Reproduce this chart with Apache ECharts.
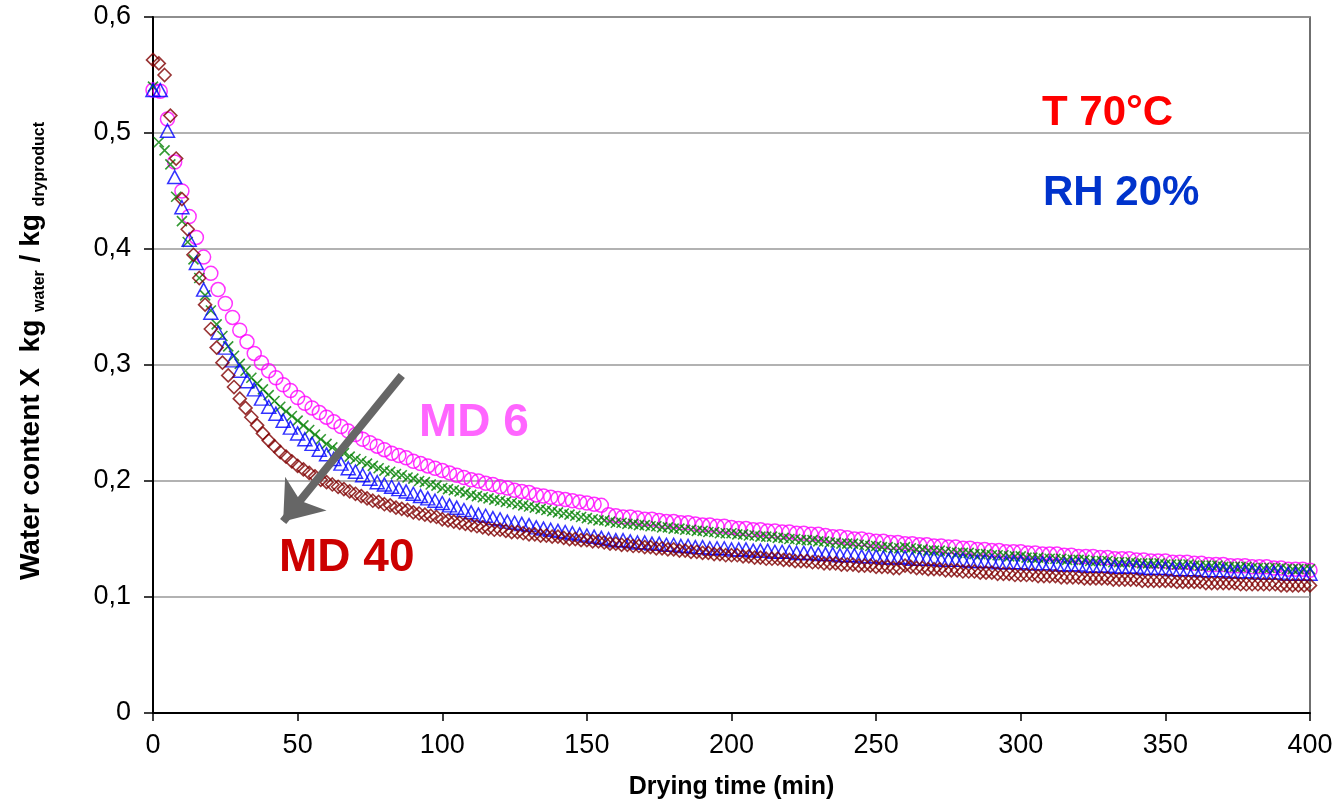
<!DOCTYPE html>
<html>
<head>
<meta charset="utf-8">
<title>Drying curves</title>
<script src="https://cdn.jsdelivr.net/npm/echarts/dist/echarts.min.js"></script>
<style>
  html, body { margin: 0; padding: 0; background: #fff; }
  #chart { width: 1338px; height: 805px; }
</style>
</head>
<body>
<div id="chart"></div>
<script>
// sampling times (min)
const timeFine = [0,2,4,6,8,10,12,14,16,18,20,22,24,26,28,30,32,34,36,38,40,42,44,46,48,50,52,54,56,58,60,
  62,64,66,68,70,72,74,76,78,80,82,84,86,88,90,92,94,96,98,100,
  102,104,106,108,110,112,114,116,118,120,122,124,126,128,130,132,134,136,138,140,142,144,146,148,150,152,154,156,158,160,
  162,164,166,168,170,172,174,176,178,180,182,184,186,188,190,192,194,196,198,200,
  202,204,206,208,210,212,214,216,218,220,222,224,226,228,230,232,234,236,238,240,242,244,246,248,250,
  252,254,256,258,260,262,264,266,268,270,272,274,276,278,280,282,284,286,288,290,292,294,296,298,300,
  302,304,306,308,310,312,314,316,318,320,322,324,326,328,330,332,334,336,338,340,342,344,346,348,350,
  352,354,356,358,360,362,364,366,368,370,372,374,376,378,380,382,384,386,388,390,392,394,396,398,400];

const timeCoarse = [0,2.5,5,7.5,10,12.5,15,17.5,20,22.5,25,27.5,30,32.5,35,37.5,40,42.5,45,47.5,50,
  52.5,55,57.5,60,62.5,65,67.5,70,72.5,75,77.5,80,82.5,85,87.5,90,92.5,95,97.5,100,
  102.5,105,107.5,110,112.5,115,117.5,120,122.5,125,127.5,130,132.5,135,137.5,140,142.5,145,147.5,150,152.5,155,
  157.5,160,162.5,165,167.5,170,172.5,175,177.5,180,182.5,185,187.5,190,192.5,195,197.5,200,
  202.5,205,207.5,210,212.5,215,217.5,220,222.5,225,227.5,230,232.5,235,237.5,240,242.5,245,247.5,250,
  252.5,255,257.5,260,262.5,265,267.5,270,272.5,275,277.5,280,282.5,285,287.5,290,292.5,295,297.5,300,
  302.5,305,307.5,310,312.5,315,317.5,320,322.5,325,327.5,330,332.5,335,337.5,340,342.5,345,347.5,350,
  352.5,355,357.5,360,362.5,365,367.5,370,372.5,375,377.5,380,382.5,385,387.5,390,392.5,395,397.5,400];

// MD 6 (circles), on timeCoarse
const md6 = [0.537,0.536,0.512,0.475,0.450,0.428,0.410,0.393,0.379,0.365,0.353,0.341,0.330,0.320,0.310,0.302,0.295,0.289,0.283,0.278,0.272,
  0.267,0.263,0.259,0.255,0.251,0.247,0.243,0.240,0.236,0.233,0.230,0.227,0.224,0.222,0.220,0.217,0.215,0.213,0.211,0.209,
  0.207,0.205,0.203,0.201,0.200,0.198,0.197,0.195,0.194,0.192,0.191,0.190,0.188,0.187,0.186,0.185,0.184,0.183,0.182,0.181,0.180,0.179,
  0.171,0.170,0.169,0.169,0.168,0.167,0.167,0.166,0.165,0.165,0.164,0.164,0.163,0.162,0.162,0.161,0.161,0.160,
  0.159,0.159,0.158,0.158,0.157,0.157,0.156,0.156,0.155,0.155,0.154,0.154,0.153,0.152,0.152,0.151,0.150,0.150,0.149,0.148,
  0.148,0.147,0.147,0.146,0.146,0.145,0.145,0.144,0.144,0.143,0.143,0.142,0.142,0.141,0.141,0.140,0.140,0.139,0.139,0.139,
  0.138,0.138,0.137,0.137,0.137,0.136,0.136,0.135,0.135,0.135,0.134,0.134,0.133,0.133,0.133,0.132,0.132,0.131,0.131,0.131,
  0.130,0.130,0.130,0.129,0.129,0.128,0.128,0.128,0.127,0.127,0.127,0.126,0.126,0.126,0.125,0.125,0.124,0.124,0.124,0.123];

// green crosses, on timeFine
const mdGreen = [0.540,0.492,0.485,0.473,0.445,0.424,0.406,0.391,0.375,0.360,0.347,0.335,0.325,0.316,0.308,0.301,0.295,0.289,0.284,0.279,0.274,0.269,0.264,0.260,0.256,0.252,0.248,0.244,0.240,0.236,0.232,
  0.229,0.226,0.224,0.221,0.219,0.217,0.215,0.213,0.211,0.209,0.208,0.206,0.205,0.203,0.202,0.200,0.199,0.197,0.196,0.194,
  0.193,0.192,0.191,0.190,0.188,0.187,0.186,0.185,0.184,0.183,0.182,0.181,0.180,0.179,0.178,0.177,0.176,0.175,0.174,0.173,0.172,0.171,0.170,0.169,0.168,0.167,0.166,0.166,0.165,0.164,
  0.164,0.163,0.163,0.162,0.162,0.161,0.161,0.160,0.160,0.159,0.159,0.158,0.158,0.157,0.157,0.156,0.156,0.155,0.155,0.155,
  0.154,0.154,0.153,0.153,0.152,0.152,0.152,0.151,0.151,0.150,0.150,0.149,0.149,0.149,0.148,0.148,0.147,0.147,0.146,0.146,0.146,0.145,0.145,0.144,0.144,
  0.143,0.143,0.142,0.142,0.143,0.142,0.141,0.141,0.140,0.140,0.140,0.139,0.139,0.138,0.138,0.138,0.137,0.137,0.137,0.136,0.136,0.136,0.135,0.135,0.135,
  0.134,0.134,0.134,0.133,0.133,0.133,0.133,0.132,0.132,0.132,0.132,0.131,0.131,0.131,0.131,0.130,0.130,0.130,0.130,0.129,0.129,0.129,0.129,0.129,0.128,
  0.128,0.128,0.128,0.128,0.127,0.127,0.127,0.127,0.127,0.126,0.126,0.126,0.126,0.126,0.125,0.125,0.125,0.125,0.125,0.125,0.124,0.124,0.124,0.124,0.124];

// blue triangles, on timeCoarse
const mdBlue = [0.537,0.537,0.502,0.462,0.436,0.408,0.388,0.365,0.345,0.328,0.315,0.304,0.295,0.286,0.279,0.271,0.264,0.258,0.252,0.246,0.241,
  0.236,0.232,0.227,0.223,0.219,0.215,0.211,0.208,0.205,0.202,0.199,0.197,0.195,0.193,0.191,0.189,0.187,0.185,0.183,0.181,
  0.179,0.177,0.175,0.173,0.171,0.170,0.168,0.167,0.165,0.164,0.163,0.162,0.160,0.159,0.158,0.157,0.156,0.155,0.154,0.153,0.152,0.151,
  0.150,0.149,0.149,0.148,0.147,0.147,0.146,0.146,0.145,0.145,0.144,0.144,0.143,0.143,0.142,0.142,0.142,0.141,
  0.141,0.141,0.140,0.140,0.140,0.139,0.139,0.139,0.138,0.138,0.138,0.137,0.137,0.137,0.136,0.136,0.136,0.135,0.135,0.135,
  0.134,0.134,0.134,0.134,0.133,0.133,0.133,0.133,0.132,0.132,0.132,0.132,0.131,0.131,0.131,0.131,0.130,0.130,0.130,0.130,
  0.129,0.129,0.129,0.129,0.128,0.128,0.128,0.128,0.127,0.127,0.127,0.127,0.126,0.126,0.126,0.126,0.125,0.125,0.125,0.125,
  0.124,0.124,0.124,0.124,0.123,0.123,0.123,0.123,0.122,0.122,0.122,0.122,0.121,0.121,0.121,0.121,0.120,0.120,0.120,0.120];

// MD 40 (diamonds), on timeFine
const md40 = [0.563,0.560,0.550,0.515,0.478,0.443,0.417,0.395,0.375,0.352,0.331,0.315,0.302,0.291,0.281,0.271,0.263,0.255,0.248,0.241,0.235,0.230,0.225,0.221,0.217,0.213,0.210,0.207,0.204,0.201,0.199,
  0.197,0.195,0.193,0.191,0.189,0.187,0.185,0.183,0.182,0.180,0.179,0.177,0.176,0.175,0.173,0.172,0.171,0.170,0.169,0.167,
  0.166,0.165,0.164,0.163,0.162,0.161,0.160,0.159,0.158,0.158,0.157,0.156,0.156,0.155,0.154,0.154,0.153,0.153,0.152,0.152,0.151,0.150,0.150,0.149,0.149,0.148,0.148,0.147,0.146,0.146,
  0.145,0.145,0.144,0.144,0.143,0.143,0.142,0.142,0.141,0.141,0.140,0.140,0.139,0.139,0.138,0.138,0.137,0.137,0.136,0.136,
  0.136,0.135,0.135,0.134,0.134,0.133,0.133,0.133,0.132,0.132,0.131,0.131,0.131,0.130,0.130,0.129,0.129,0.129,0.128,0.128,0.128,0.127,0.127,0.127,0.126,
  0.126,0.126,0.125,0.125,0.127,0.126,0.125,0.125,0.124,0.124,0.124,0.123,0.123,0.123,0.122,0.122,0.122,0.121,0.121,0.121,0.120,0.120,0.120,0.119,0.119,
  0.119,0.119,0.118,0.118,0.118,0.118,0.117,0.117,0.117,0.117,0.116,0.116,0.116,0.116,0.116,0.115,0.115,0.115,0.115,0.115,0.114,0.114,0.114,0.114,0.114,
  0.114,0.113,0.113,0.113,0.113,0.113,0.112,0.112,0.112,0.112,0.112,0.112,0.111,0.111,0.111,0.111,0.111,0.111,0.111,0.110,0.110,0.110,0.110,0.110,0.110];

// arrow from MD 6 towards MD 40, in data units
const arrowFrom = [86, 0.291];
const arrowTo = [45, 0.165];

const FONT = '"Liberation Sans", Arial, sans-serif';

function pairs(times, values) {
  return values.map((v, i) => [times[i], v]);
}

const chart = echarts.init(document.getElementById('chart'));

const option = {
  animation: false,
  backgroundColor: '#fff',
  grid: {
    left: 153, right: 28, top: 17, bottom: 88,
    show: true, borderColor: '#404040', borderWidth: 1.5
  },
  xAxis: {
    type: 'value', min: 0, max: 400, interval: 50,
    name: 'Drying time (min)', nameLocation: 'middle', nameGap: 62,
    nameTextStyle: { fontFamily: FONT, fontWeight: 'bold', fontSize: 25, color: '#000' },
    axisLine: { lineStyle: { color: '#000', width: 2 } },
    axisTick: { show: true, inside: false, length: 8, lineStyle: { color: '#000', width: 1.5 } },
    axisLabel: { fontFamily: FONT, fontSize: 27, color: '#000', margin: 19 },
    splitLine: { show: false }
  },
  yAxis: {
    type: 'value', min: 0, max: 0.6, interval: 0.1,
    name: '{a|Water content X  kg }{s|water}{a| / kg }{s|dryproduct}',
    nameLocation: 'middle', nameGap: 108,
    nameTextStyle: {
      fontFamily: FONT, color: '#000', padding: [0, 0, 0, 28],
      rich: {
        a: { fontFamily: FONT, fontWeight: 'bold', fontSize: 28, color: '#000', verticalAlign: 'bottom', lineHeight: 31 },
        s: { fontFamily: FONT, fontWeight: 'bold', fontSize: 16, color: '#000', verticalAlign: 'bottom', lineHeight: 31, padding: [0, 0, -3, 0] }
      }
    },
    axisLine: { show: true, lineStyle: { color: '#000', width: 2 } },
    axisTick: { show: true, inside: false, length: 9, lineStyle: { color: '#000', width: 1.5 } },
    axisLabel: {
      fontFamily: FONT, fontSize: 27, color: '#000', margin: 22,
      formatter: v => (v === 0 ? '0' : v.toFixed(1).replace('.', ','))
    },
    splitLine: { show: true, lineStyle: { color: '#999', width: 1.5 } }
  },
  series: [
    {
      name: 'MD 6', type: 'scatter', symbol: 'circle', symbolSize: 14,
      itemStyle: { color: 'rgba(0,0,0,0)', borderColor: '#FF00FF', borderWidth: 1.5 },
      data: pairs(timeCoarse, md6)
    },
    {
      name: 'green', type: 'scatter', symbol: 'path://M0,0L10,10M10,0L0,10', symbolSize: 10,
      itemStyle: { color: 'rgba(0,0,0,0)', borderColor: '#008000', borderWidth: 1.6 },
      data: pairs(timeFine, mdGreen)
    },
    {
      name: 'blue', type: 'scatter', symbol: 'triangle', symbolSize: [14, 13],
      itemStyle: { color: 'rgba(0,0,0,0)', borderColor: '#0000FF', borderWidth: 1.5 },
      data: pairs(timeCoarse, mdBlue)
    },
    {
      name: 'MD 40', type: 'scatter', symbol: 'diamond', symbolSize: [13, 13],
      itemStyle: { color: 'rgba(0,0,0,0)', borderColor: '#800000', borderWidth: 1.6 },
      data: pairs(timeFine, md40),
      markLine: {
        silent: true, animation: false,
        symbol: ['none', 'arrow'], symbolSize: [40, 36],
        label: { show: false },
        lineStyle: { color: '#666', width: 8, type: 'solid' },
        data: [[{ coord: arrowFrom }, { coord: arrowTo }]]
      }
    }
  ],
  graphic: [
    { type: 'text', left: 1042, top: 92, style: { text: 'T 70°C', font: 'bold 42px ' + FONT, fill: '#FF0000' } },
    { type: 'text', left: 1043, top: 172, style: { text: 'RH 20%', font: 'bold 42px ' + FONT, fill: '#0033CC' } },
    { type: 'text', left: 419, top: 400, style: { text: 'MD 6', font: 'bold 46px ' + FONT, fill: '#FF66FF' } },
    { type: 'text', left: 279, top: 535, style: { text: 'MD 40', font: 'bold 46px ' + FONT, fill: '#CC0000' } }
  ]
};

chart.setOption(option);
</script>
</body>
</html>
